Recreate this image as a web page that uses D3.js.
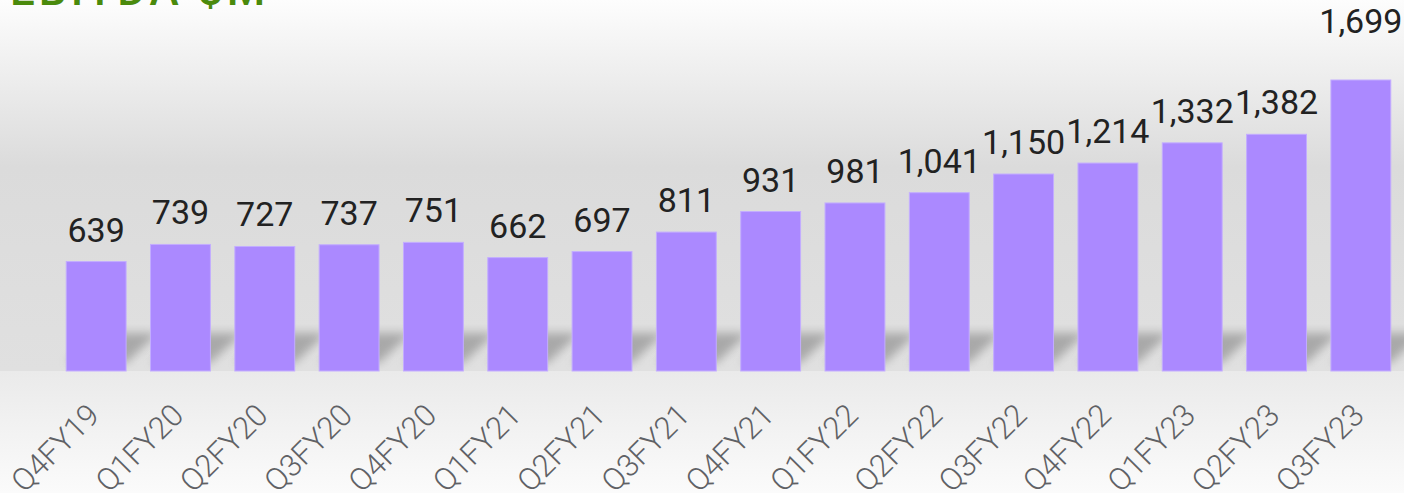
<!DOCTYPE html>
<html>
<head>
<meta charset="utf-8">
<script src="https://cdn.jsdelivr.net/npm/d3@7"></script>
<style>
  html, body { margin: 0; padding: 0; background: #fbfbfb; }
  #container { width: 1404px; height: 493px; overflow: hidden; }
</style>
</head>
<body>
<div id="container"></div>
<script>
const quarters = ['Q4FY19', 'Q1FY20', 'Q2FY20', 'Q3FY20', 'Q4FY20', 'Q1FY21', 'Q2FY21', 'Q3FY21',
    'Q4FY21', 'Q1FY22', 'Q2FY22', 'Q3FY22', 'Q4FY22', 'Q1FY23', 'Q2FY23', 'Q3FY23'];
const ebitda = [639, 739, 727, 737, 751, 662, 697, 811, 931, 981, 1041, 1150, 1214, 1332, 1382, 1699];
const title = 'EBITDA $M';

const width = 1404;
const height = 493;
const baseline = 371;

const svg = d3.select('#container')
    .append('svg')
    .attr('width', width)
    .attr('height', height);

const defs = svg.append('defs');

// wall gradient behind the bars
const wall = defs.append('linearGradient')
    .attr('id', 'wall')
    .attr('x1', 0).attr('y1', 0).attr('x2', 0).attr('y2', 1);
wall.append('stop').attr('offset', '0%').attr('stop-color', '#fdfdfd');
wall.append('stop').attr('offset', '45%').attr('stop-color', '#dbdbdb');
wall.append('stop').attr('offset', '100%').attr('stop-color', '#e0e0e0');

// floor gradient below the bars
const floor = defs.append('linearGradient')
    .attr('id', 'floor')
    .attr('x1', 0).attr('y1', 0).attr('x2', 0).attr('y2', 1);
floor.append('stop').attr('offset', '0%').attr('stop-color', '#eaeaea');
floor.append('stop').attr('offset', '100%').attr('stop-color', '#fbfbfb');

defs.append('filter')
    .attr('id', 'blur')
    .attr('x', '-50%').attr('y', '-50%').attr('width', '200%').attr('height', '200%')
    .append('feGaussianBlur')
    .attr('stdDeviation', 5);

svg.append('rect')
    .attr('width', width).attr('height', baseline)
    .attr('fill', 'url(#wall)');

const x = d3.scaleBand()
    .domain(quarters)
    .range([54, 1403])
    .paddingInner(0.29)
    .paddingOuter(0.145);

const y = d3.scaleLinear()
    .domain([0, d3.max(ebitda)])
    .range([baseline, 80]);

const data = quarters.map((q, i) => ({ q: q, v: ebitda[i] }));

// cast shadows on the wall, leaning to the right
svg.append('g')
    .selectAll('path')
    .data(data)
    .join('path')
    .attr('d', d => {
        const x0 = x(d.q);
        const x1 = x0 + x.bandwidth();
        return 'M' + x0 + ',' + (baseline - 8) + 'L' + x1 + ',' + (baseline - 8) +
            'L' + (x1 + 32) + ',' + (baseline - 38) + 'L' + (x0 + 32) + ',' + (baseline - 38) + 'Z';
    })
    .attr('fill', '#7c7c7c')
    .attr('opacity', 0.55)
    .attr('filter', 'url(#blur)');

// floor strip covers the lower part of the shadows
svg.append('rect')
    .attr('y', baseline).attr('width', width).attr('height', height - baseline)
    .attr('fill', 'url(#floor)');

svg.append('g')
    .selectAll('rect')
    .data(data)
    .join('rect')
    .attr('x', d => x(d.q))
    .attr('y', d => y(d.v))
    .attr('width', x.bandwidth())
    .attr('height', d => baseline - y(d.v))
    .attr('fill', '#ab89ff')
    .attr('stroke', '#c3adff')
    .attr('stroke-width', 1);

// value labels, the last one sits higher above its bar
const fmt = d3.format(',');
svg.append('g')
    .selectAll('text')
    .data(data)
    .join('text')
    .attr('x', d => x(d.q) + x.bandwidth() / 2)
    .attr('y', (d, i) => y(d.v) - (i === data.length - 1 ? 47 : 20))
    .attr('text-anchor', 'middle')
    .attr('font-family', 'Roboto, sans-serif')
    .attr('font-size', 34)
    .attr('fill', '#222')
    .text(d => fmt(d.v));

// rotated quarter labels
svg.append('g')
    .selectAll('text')
    .data(quarters)
    .join('text')
    .attr('transform', d => 'translate(' + (x(d) + x.bandwidth() / 2 + 5) + ',417) rotate(-45)')
    .attr('text-anchor', 'end')
    .attr('font-family', 'Roboto, sans-serif')
    .attr('font-weight', 300)
    .attr('font-size', 31)
    .attr('fill', '#5f6165')
    .text(d => d);

svg.append('text')
    .attr('x', 10)
    .attr('y', 5)
    .attr('font-family', 'Roboto, sans-serif')
    .attr('font-weight', 500)
    .attr('font-size', 44)
    .attr('letter-spacing', 4)
    .attr('fill', '#4a8a0c')
    .text(title);
</script>
</body>
</html>
